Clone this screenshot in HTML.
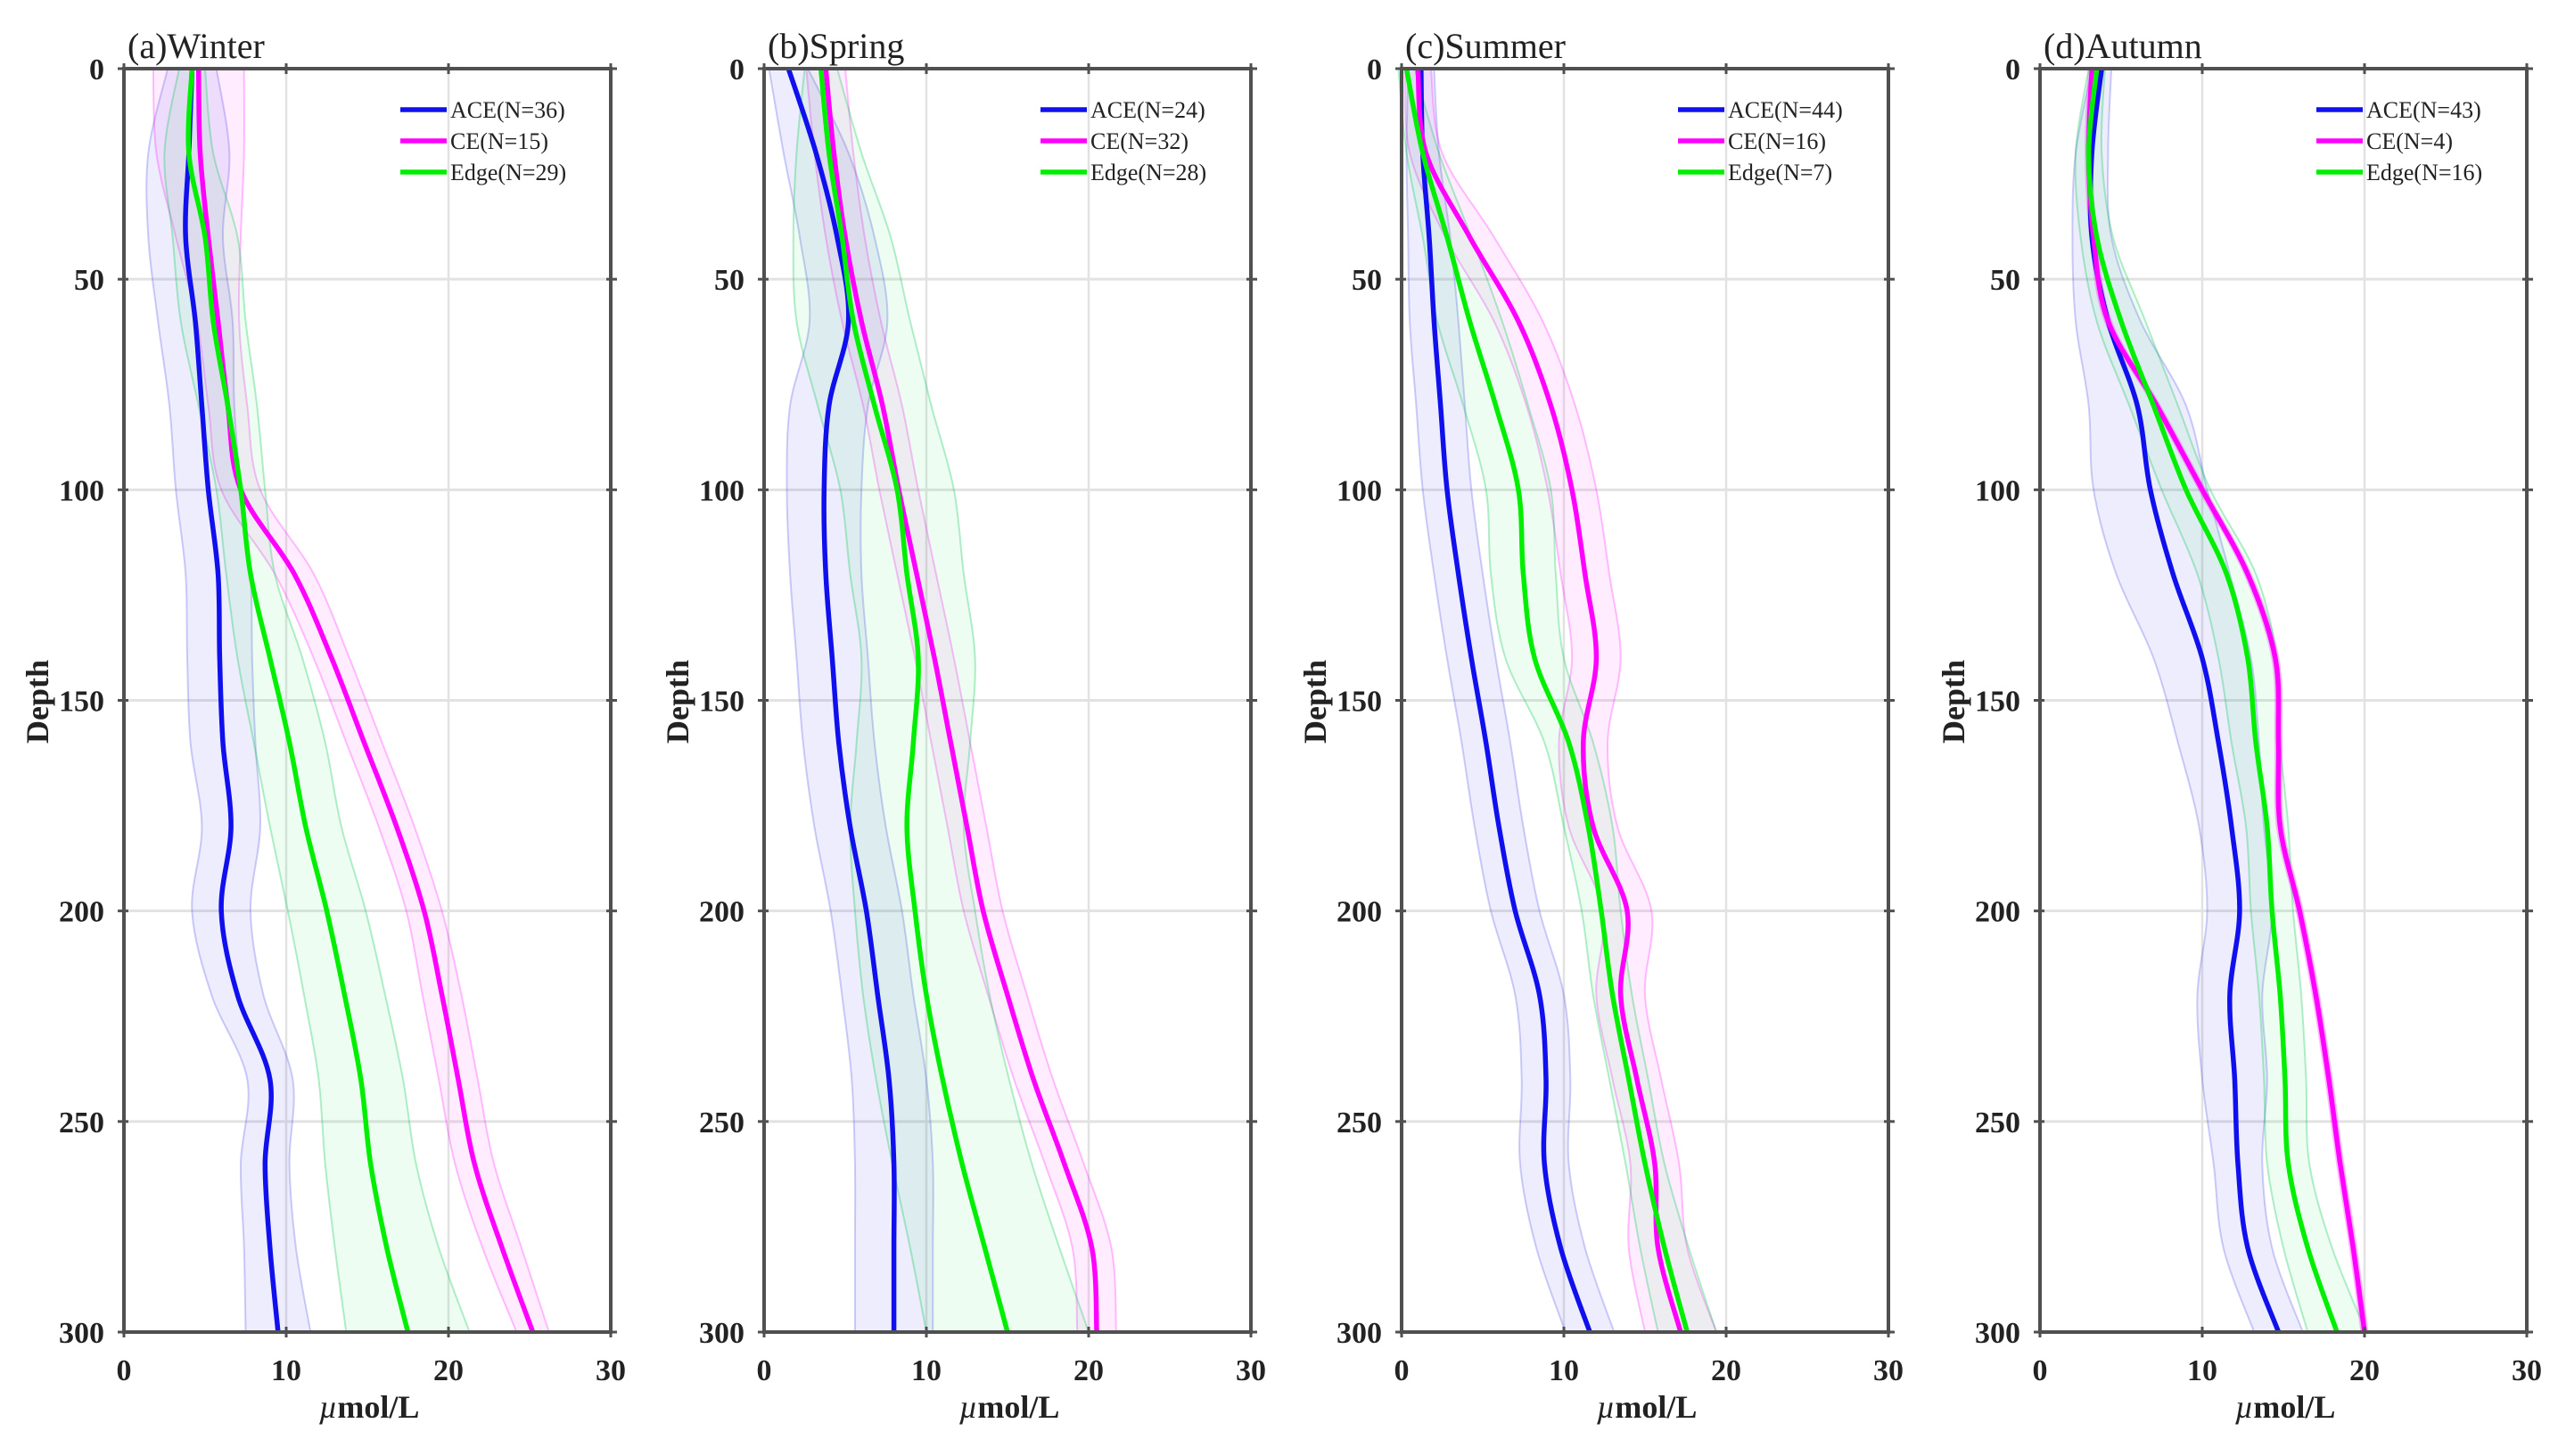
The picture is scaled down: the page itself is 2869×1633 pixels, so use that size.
<!DOCTYPE html>
<html><head><meta charset="utf-8">
<style>
html,body{margin:0;padding:0;background:#fff;}
svg{display:block;}
text{font-family:"Liberation Serif",serif;}
</style></head>
<body>
<svg id="chart" width="2869" height="1633" viewBox="0 0 2869 1633" xmlns="http://www.w3.org/2000/svg"></svg>
<script>
const depths = [0,20,40,60,80,100,120,140,160,180,200,220,240,260,280,300];
const xTicks = [0,10,20,30];
const yTicks = [0,50,100,150,200,250,300];
const panelTitles = ["(a)Winter","(b)Spring","(c)Summer","(d)Autumn"];
const seriesNames = ["ACE","CE","Edge"];
const counts = [[36,15,29],[24,32,28],[44,16,7],[43,4,16]];

const winterACE = [4.2,4.0,3.8,4.4,4.8,5.2,5.8,5.9,6.1,6.6,6.0,7.0,9.0,8.7,9.0,9.5];
const winterACEsd = [1.5,2.5,2.3,2.3,2,2,2,2,2,1.8,1.8,1.6,1.4,1.5,1.6,2];
const winterCE = [4.6,4.7,5.2,5.8,6.4,7.2,10.5,12.8,14.8,16.8,18.5,19.6,20.6,21.6,23.3,25.2];
const winterCEsd = [2.8,2.7,2,1.3,1.2,1.2,1.2,1.1,1.1,1.1,1.1,1.2,1.2,1.2,1.2,1];
const winterEdge = [4.2,4.0,5.0,5.5,6.4,7.2,7.8,9.0,10.2,11.2,12.5,13.6,14.6,15.2,16.2,17.5];
const winterEdgesd = [0.8,1.5,2,2,1.8,1.5,1.5,2,2.2,2.2,2.4,2.5,2.6,2.8,3.2,3.8];

const springACE = [1.5,3.2,4.5,5.2,4.0,3.7,3.8,4.2,4.6,5.3,6.3,7.0,7.7,8.0,8.0,8.0];
const springACEsd = [1.2,2,2.3,2.4,2.4,2.3,2.2,2.2,2.2,2.2,2.2,2.2,2.3,2.4,2.4,2.4];
const springCE = [3.8,4.3,5.0,6.0,7.3,8.3,9.4,10.5,11.5,12.5,13.5,15.0,16.6,18.5,20.2,20.5];
const springCEsd = [1.2,1.2,1.2,1.2,1.2,1.2,1.2,1.2,1.2,1.2,1.2,1.2,1.2,1.2,1.2,1.2];
const springEdge = [3.5,4.0,4.8,5.5,6.8,8.2,8.8,9.5,9.2,8.8,9.3,10.0,11.0,12.2,13.6,15.0];
const springEdgesd = [1,2,3,3.5,3.5,3.5,3.5,3.5,3.5,3.5,3.7,3.9,4.1,4.3,4.6,5];

const summerACE = [1.2,1.3,1.7,2.0,2.4,2.8,3.5,4.3,5.2,6.0,7.0,8.5,8.9,8.8,9.8,11.6];
const summerACEsd = [0.8,1,1.3,1.5,1.5,1.5,1.5,1.5,1.5,1.5,1.5,1.5,1.5,1.5,1.5,1.5];
const summerCE = [1.0,1.5,4.2,7.2,9.2,10.5,11.3,12.0,11.2,11.8,13.9,13.5,14.5,15.6,15.8,17.2];
const summerCEsd = [0.8,1,1.5,1.5,1.5,1.5,1.5,1.5,1.5,1.5,1.5,1.5,1.5,1.5,1.8,2.2];
const summerEdge = [0.3,1.3,2.8,4.2,5.8,7.2,7.5,8.2,10.3,11.5,12.3,13.0,14.0,15.0,16.2,17.6];
const summerEdgesd = [0.5,1,1.5,2,2,2,2,1.8,1.5,1.5,1.2,1.2,1.2,1.2,1.5,1.8];

const autumnACE = [3.8,3.2,3.2,4.2,6.0,6.8,8.2,10.0,11.0,11.8,12.3,11.7,12.0,12.2,12.8,14.7];
const autumnACEsd = [0.6,1,1.2,2,3,3.5,3.5,3,2.5,2,2,2,2,1.5,1.5,1.5];
const autumnCE = [3.2,3.0,3.3,4.2,7.2,10.0,12.8,14.5,14.7,14.8,16.0,17.0,17.8,18.5,19.3,20.0];
const autumnCEsd = [0.2,0.2,0.2,0.2,0.2,0.2,0.2,0.2,0.2,0.2,0.2,0.2,0.2,0.2,0.2,0.2];
const autumnEdge = [3.5,3.0,3.5,5.0,7.0,9.0,11.5,12.8,13.3,14.0,14.3,14.8,15.1,15.3,16.5,18.3];
const autumnEdgesd = [0.5,0.8,1,1.5,1.5,1.5,1.8,1.8,1.5,1.3,1.3,1.3,1.3,1.3,1.5,1.8];

const panelData = [
  [[winterACE,winterACEsd],[winterCE,winterCEsd],[winterEdge,winterEdgesd]],
  [[springACE,springACEsd],[springCE,springCEsd],[springEdge,springEdgesd]],
  [[summerACE,summerACEsd],[summerCE,summerCEsd],[summerEdge,summerEdgesd]],
  [[autumnACE,autumnACEsd],[autumnCE,autumnCEsd],[autumnEdge,autumnEdgesd]]
];
const colors = ["#1010ee","#ff00ff","#00ee00"];
const fills = ["rgba(60,60,230,0.09)","rgba(255,0,255,0.07)","rgba(0,220,60,0.07)"];
const edges = ["rgba(60,60,230,0.25)","rgba(255,0,255,0.25)","rgba(0,200,80,0.3)"];

const NS = "http://www.w3.org/2000/svg";
const svg = document.getElementById("chart");
const panelLeft = [139,857,1572,2288];
const plotW = 546, plotTop = 77, plotH = 1417;

function mk(tag, attrs, parent){
  const e = document.createElementNS(NS, tag);
  for (const k in attrs) e.setAttribute(k, attrs[k]);
  parent.appendChild(e);
  return e;
}
function smoothPath(pts){
  let d = "M" + pts[0][0].toFixed(1) + "," + pts[0][1].toFixed(1);
  for (let i=0;i<pts.length-1;i++){
    const p0=pts[Math.max(i-1,0)], p1=pts[i], p2=pts[i+1], p3=pts[Math.min(i+2,pts.length-1)];
    const c1=[p1[0]+(p2[0]-p0[0])/6, p1[1]+(p2[1]-p0[1])/6];
    const c2=[p2[0]-(p3[0]-p1[0])/6, p2[1]-(p3[1]-p1[1])/6];
    d += " C"+c1[0].toFixed(1)+","+c1[1].toFixed(1)+" "+c2[0].toFixed(1)+","+c2[1].toFixed(1)+" "+p2[0].toFixed(1)+","+p2[1].toFixed(1);
  }
  return d;
}

panelData.forEach((series, p) => {
  const L = panelLeft[p];
  const xS = v => L + v/30*plotW;
  const yS = d => plotTop + d/300*plotH;
  const g = mk("g", {}, svg);
  
  

  // grid
  xTicks.slice(1,-1).forEach(t => {
    const l = mk("line",{x1:xS(t),x2:xS(t),y1:yS(0),y2:yS(300),stroke:"#e2e2e2","stroke-width":2.5},g);
    
    
  });
  yTicks.slice(1,-1).forEach(t => {
    const l = mk("line",{x1:xS(0),x2:xS(30),y1:yS(t),y2:yS(t),stroke:"#e2e2e2","stroke-width":3},g);
    
    
  });

  // bands
  series.forEach((s, k) => {
    const mean = s[0], sd = s[1];
    const left = depths.map((d,i)=>[xS(mean[i]-sd[i]), yS(d)]);
    const right = depths.map((d,i)=>[xS(mean[i]+sd[i]), yS(d)]).reverse();
    const dl = smoothPath(left), dr = smoothPath(right);
    const band = mk("path",{d: dl + " L" + dr.slice(1) + " Z", fill: fills[k], stroke:"none"}, g);
    
    
    [dl, dr].forEach(dd => {
      const e = mk("path",{d: dd, fill:"none", stroke: edges[k], "stroke-width":2}, g);
      
      
    });
  });
  // lines
  series.forEach((s, k) => {
    const pts = depths.map((d,i)=>[xS(s[0][i]), yS(d)]);
    const ln = mk("path",{d: smoothPath(pts), fill:"none", stroke: colors[k], "stroke-width":5.5, "stroke-linejoin":"round"}, g);
    
    
  });

  // axes box
  const box = mk("rect",{x:xS(0),y:yS(0),width:plotW,height:plotH,fill:"none",stroke:"#505050","stroke-width":4},g);
  
  

  // ticks and labels
  xTicks.forEach(t => {
    [[yS(0)-6,yS(0)+6],[yS(300)-6,yS(300)+6]].forEach(yy=>{
      const tk = mk("line",{x1:xS(t),x2:xS(t),y1:yy[0],y2:yy[1],stroke:"#505050","stroke-width":3},g);
      
      
    });
    const tx = mk("text",{x:xS(t),y:yS(300)+54,"text-anchor":"middle","font-size":34,"font-weight":"bold",fill:"#222"},g);
    tx.textContent = t;
    
    
  });
  yTicks.forEach(t => {
    [[xS(0)-7,xS(0)+5],[xS(30)-5,xS(30)+7]].forEach(xx=>{
      const tk = mk("line",{x1:xx[0],x2:xx[1],y1:yS(t),y2:yS(t),stroke:"#505050","stroke-width":3},g);
      
      
    });
    const tx = mk("text",{x:xS(0)-22,y:yS(t)+12,"text-anchor":"end","font-size":34,"font-weight":"bold",fill:"#222"},g);
    tx.textContent = t;
    
    
  });

  const title = mk("text",{x:L+4,y:65,"font-size":40,fill:"#222"},g);
  title.textContent = panelTitles[p];
  
  

  const xl = mk("text",{x:L+275,y:1590,"text-anchor":"middle","font-size":36,"font-weight":"bold",fill:"#222"},g);
  xl.innerHTML = '<tspan font-style="italic" font-weight="normal">µ</tspan>mol/L';
  
  

  const yl = mk("text",{x:0,y:0,"text-anchor":"middle","font-size":36,"font-weight":"bold",fill:"#222",transform:"translate("+(L-85)+",787) rotate(-90)"},g);
  yl.textContent = "Depth";
  
  

  // legend
  const lg = mk("g",{},g);
  
  
  seriesNames.forEach((n,k)=>{
    const yy = 123 + k*35;
    const ll = mk("line",{x1:L+310,x2:L+362,y1:yy,y2:yy,stroke:colors[k],"stroke-width":5.5},lg);
    
    
    const lt = mk("text",{x:L+366,y:yy+9,"font-size":26,fill:"#222"},lg);
    lt.textContent = n + "(N=" + counts[p][k] + ")";
    
    
  });
});
</script>
</body></html>
